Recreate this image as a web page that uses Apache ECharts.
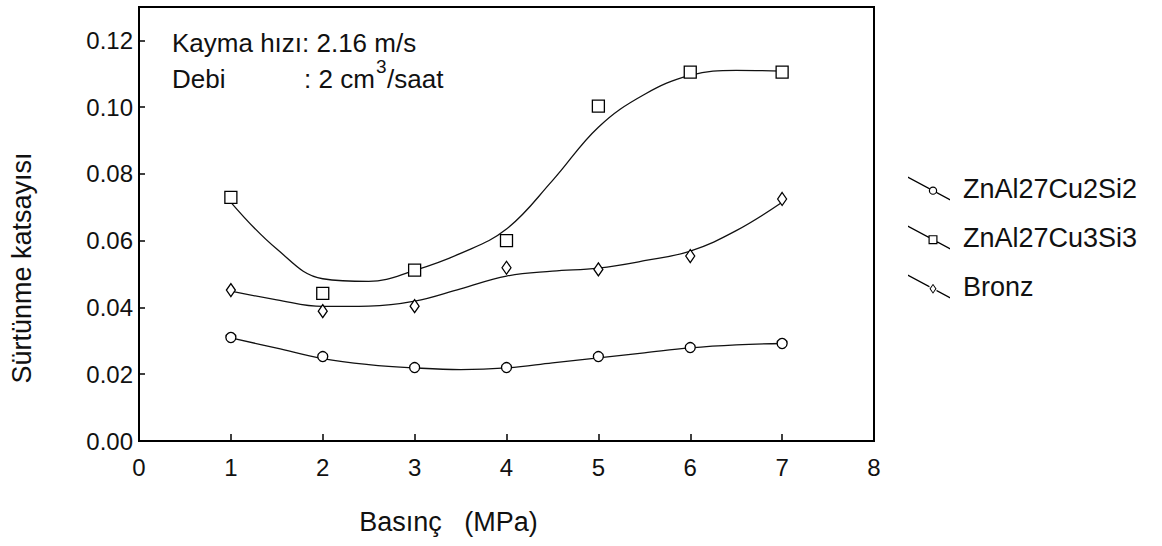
<!DOCTYPE html>
<html>
<head>
<meta charset="utf-8">
<title>Sürtünme katsayısı</title>
<script src="https://cdn.jsdelivr.net/npm/echarts@6/dist/echarts.min.js"></script>
<style>
    html, body { margin: 0; padding: 0; background: #fff; }
    #chart { width: 1162px; height: 546px; }
</style>
</head>
<body>
<div id="chart"></div>
<script>
// measured points
var pressure = [1, 2, 3, 4, 5, 6, 7];
var cu2si2 = [0.0310, 0.0253, 0.0220, 0.0220, 0.0253, 0.0280, 0.0292];
var cu3si3 = [0.0730, 0.0442, 0.0512, 0.0600, 0.1003, 0.1105, 0.1105];
var bronz = [0.0452, 0.0389, 0.0404, 0.0519, 0.0514, 0.0554, 0.0725];

// fitted curves
var fitX = [1, 1.5, 2, 2.5, 3, 3.5, 4, 4.5, 5, 5.5, 6, 6.5, 7];
var fitCu2si2 = [0.0309, 0.0278, 0.0247, 0.0229, 0.0219, 0.0214, 0.0219, 0.0234, 0.0249, 0.0264, 0.0279, 0.0288, 0.0292];
var fitCu3si3 = [0.0715, 0.0575, 0.0486, 0.0478, 0.0511, 0.0562, 0.0635, 0.0780, 0.0940, 0.1038, 0.1095, 0.1110, 0.1108];
var fitBronz = [0.0449, 0.0423, 0.0403, 0.0404, 0.0419, 0.0456, 0.0494, 0.0509, 0.0518, 0.0540, 0.0569, 0.0630, 0.0715];

// axis ticks
var xTicks = [0, 1, 2, 3, 4, 5, 6, 7, 8];
var yTicks = [0, 0.02, 0.04, 0.06, 0.08, 0.10, 0.12];

var names = ['ZnAl27Cu2Si2', 'ZnAl27Cu3Si3', 'Bronz'];

function pairs(xs, ys) {
    return xs.map(function (x, i) {
        return [x, ys[i]];
    });
}

// legend icons: slanted line with a hollow marker
var seg = 'M0,0 L21.5,11.57 L21.5,12.97 L0,1.4 Z M28.5,15.33 L42,22.6 L42,24 L28.5,16.73 Z ';
var iconCircle = 'path://' + seg +
    'M29.2,14.15 A4.2,4.2 0 1,1 20.8,14.15 A4.2,4.2 0 1,1 29.2,14.15 Z ' +
    'M28,14.15 A3,3 0 1,0 22,14.15 A3,3 0 1,0 28,14.15 Z';
var iconRect = 'path://' + seg +
    'M20.5,9.65 L29.5,9.65 L29.5,18.65 L20.5,18.65 Z ' +
    'M21.7,10.85 L21.7,17.45 L28.3,17.45 L28.3,10.85 Z';
var iconDiamond = 'path://' + seg +
    'M25,9.15 L28.5,14.15 L25,19.15 L21.5,14.15 Z ' +
    'M25,10.65 L22.7,14.15 L25,17.65 L27.3,14.15 Z';

var font = 'Liberation Sans, Arial, sans-serif';

function fitLine(name, ys) {
    return {
        name: name,
        type: 'line',
        data: pairs(fitX, ys),
        smooth: 0.4,
        showSymbol: false,
        silent: true,
        lineStyle: { color: '#111', width: 1.3 },
        itemStyle: { color: '#000' },
        z: 2
    };
}

function points(name, ys, symbol, size) {
    return {
        name: name,
        type: 'scatter',
        data: pairs(pressure, ys),
        symbol: symbol,
        symbolSize: size,
        itemStyle: { color: '#fff', borderColor: '#000', borderWidth: 1.3, opacity: 1 },
        z: 3
    };
}

function note(text, left, top, size) {
    return { type: 'text', left: left, top: top, style: { text: text, fontSize: size, fontFamily: font, fill: '#111' } };
}

var chart = echarts.init(document.getElementById('chart'), null, { renderer: 'svg' });
chart.setOption({
    animation: false,
    backgroundColor: '#fff',
    textStyle: { fontFamily: font },
    grid: {
        left: 139,
        right: 288,
        top: 7,
        bottom: 105,
        show: true,
        borderColor: '#000',
        borderWidth: 2,
        backgroundColor: 'transparent'
    },
    legend: {
        orient: 'vertical',
        left: 903,
        top: 170,
        itemWidth: 42,
        itemHeight: 24,
        itemGap: 22,
        selectedMode: false,
        itemStyle: { color: '#000', borderWidth: 0 },
        textStyle: { fontSize: 27, color: '#111', lineHeight: 24, padding: [0, 0, 0, 8], fontFamily: font },
        data: [
            { name: names[0], icon: iconCircle },
            { name: names[1], icon: iconRect },
            { name: names[2], icon: iconDiamond }
        ]
    },
    xAxis: {
        type: 'value',
        min: 0,
        max: 8,
        interval: 1,
        name: 'Basınç   (MPa)',
        nameLocation: 'middle',
        nameGap: 67,
        nameTextStyle: { fontSize: 27, color: '#111', padding: [0, 116, 0, 0], fontFamily: font },
        splitLine: { show: false },
        axisLine: { lineStyle: { color: '#000', width: 2 } },
        axisTick: { inside: true, length: 7, lineStyle: { color: '#000', width: 1.5 }, customValues: xTicks.slice(1) },
        axisLabel: { fontSize: 24, color: '#111', margin: 14, fontFamily: font, customValues: xTicks }
    },
    yAxis: {
        type: 'value',
        min: 0,
        max: 0.13,
        name: 'Sürtünme katsayısı',
        nameLocation: 'middle',
        nameGap: 104,
        nameTextStyle: { fontSize: 27, color: '#111', padding: [0, 88, 0, 0], fontFamily: font },
        splitLine: { show: false },
        axisLine: { lineStyle: { color: '#000', width: 2 } },
        axisTick: { inside: true, length: 6, lineStyle: { color: '#000', width: 1.5 }, customValues: yTicks.slice(1) },
        axisLabel: {
            fontSize: 24,
            color: '#111',
            margin: 6,
            fontFamily: font,
            customValues: yTicks,
            formatter: function (v) {
                return v.toFixed(2);
            }
        }
    },
    // test conditions
    graphic: [
        note('Kayma hızı', 172, 30, 26),
        note(': 2.16 m/s', 302, 30, 26),
        note('Debi', 172, 66, 26),
        note(': 2 cm', 304, 66, 26),
        note('3', 376, 57, 19),
        note('/saat', 387, 66, 26)
    ],
    series: [
        fitLine(names[0], fitCu2si2),
        fitLine(names[1], fitCu3si3),
        fitLine(names[2], fitBronz),
        points(names[0], cu2si2, 'circle', 10),
        points(names[1], cu3si3, 'rect', 12),
        points(names[2], bronz, 'diamond', [9, 13])
    ]
});
</script>
</body>
</html>
